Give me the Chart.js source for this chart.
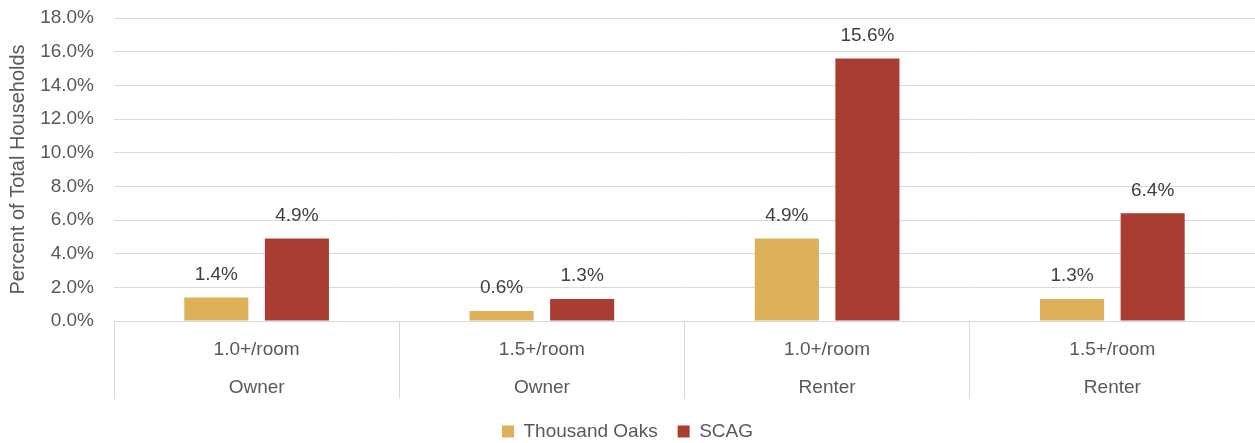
<!DOCTYPE html>
<html>
<head>
<meta charset="utf-8">
<script src="https://cdn.jsdelivr.net/npm/chart.js@4"></script>
<style>
	html, body { margin: 0; padding: 0; background: #fff; }
	#box { width: 1255px; height: 443px; }
</style>
</head>
<body>
<div id="box"><canvas id="grafico"></canvas></div>
<script>
const categorias = [
	["1.0+/room", "Owner"],
	["1.5+/room", "Owner"],
	["1.0+/room", "Renter"],
	["1.5+/room", "Renter"],
];
const thousandOaks = [1.4, 0.6, 4.9, 1.3];
const scag = [4.9, 1.3, 15.6, 6.4];
const yMin = 0;
const yMax = 18;
const yStep = 2;

const fonte = "'Liberation Sans', Arial, sans-serif";
const cinza = "#595959";

// rotulos de valor acima das barras
const rotulos = {
	id: "rotulos",
	afterDatasetsDraw(chart) {
		const ctx = chart.ctx;
		ctx.save();
		ctx.font = "19px " + fonte;
		ctx.fillStyle = "#404040";
		ctx.textAlign = "center";
		ctx.textBaseline = "middle";
		chart.data.datasets.forEach((ds, i) => {
			chart.getDatasetMeta(i).data.forEach((bar, j) => {
				ctx.fillText(ds.data[j].toFixed(1) + "%", bar.x, bar.y - 23);
			});
		});
		ctx.restore();
	},
};

new Chart(document.querySelector("#grafico"), {
	type: "bar",
	data: {
		labels: categorias,
		datasets: [
			{
				label: "Thousand Oaks",
				data: thousandOaks,
				backgroundColor: "#DDB05A",
				categoryPercentage: 0.565,
				barPercentage: 0.795,
			},
			{
				label: "SCAG",
				data: scag,
				backgroundColor: "#A93D32",
				categoryPercentage: 0.565,
				barPercentage: 0.795,
			},
		],
	},
	options: {
		responsive: true,
		maintainAspectRatio: false,
		animation: false,
		events: [],
		layout: { padding: { top: 18, right: 0, left: 0, bottom: -8 } },
		scales: {
			x: {
				grid: {
					offset: true,
					drawOnChartArea: false,
					drawTicks: true,
					tickLength: 78,
					color: "#D9D9D9",
				},
				border: { display: true, color: "#D9D9D9" },
				ticks: {
					padding: -68,
					color: cinza,
					font: { family: fonte, size: 19, lineHeight: 38 / 19 },
					maxRotation: 0,
				},
				afterFit: (s) => { s.height = 81; },
			},
			y: {
				min: yMin,
				max: yMax,
				ticks: {
					stepSize: yStep,
					padding: 0,
					color: cinza,
					font: { family: fonte, size: 19 },
					callback: (v) => v.toFixed(1) + "%",
				},
				grid: { color: "#D9D9D9", drawTicks: true, tickLength: 20, tickColor: "rgba(0,0,0,0)" },
				border: { display: false },
				title: {
					display: true,
					text: "Percent of Total Households",
					color: cinza,
					font: { family: fonte, size: 20 },
					padding: { top: 6, bottom: 0 },
				},
				afterFit: (s) => { s.width = 114; },
			},
		},
		plugins: {
			legend: {
				position: "bottom",
				labels: {
					boxWidth: 12,
					boxHeight: 12,
					padding: 20,
					color: cinza,
					font: { family: fonte, size: 19 },
				},
			},
			tooltip: { enabled: false },
		},
	},
	plugins: [rotulos],
});
</script>
</body>
</html>
